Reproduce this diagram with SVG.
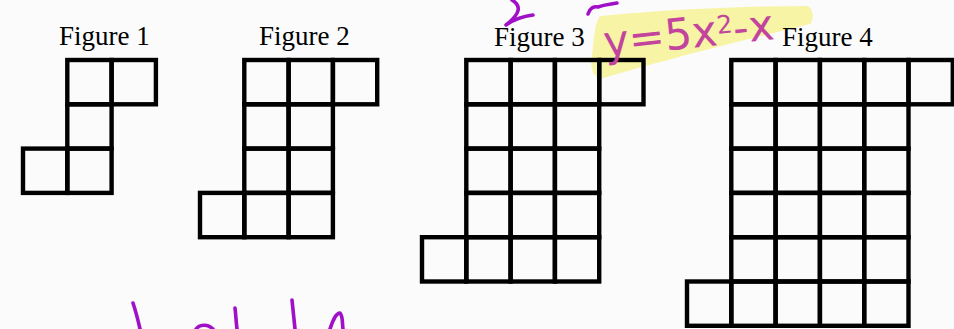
<svg xmlns="http://www.w3.org/2000/svg" xmlns:xlink="http://www.w3.org/1999/xlink" width="954" height="329" viewBox="0 0 954 329">
<style>
.c{fill:none;stroke:#000;stroke-width:4.4;stroke-linejoin:miter}
.lbl{font-family:"Liberation Serif","Times New Roman",serif;font-size:27px;fill:#000}
.ink{fill:none;stroke:#a010c8;stroke-width:3.6;stroke-linecap:round;stroke-linejoin:round}
.hw{font-family:"DejaVu Sans","Liberation Sans",sans-serif;font-size:43px;fill:#c2449c}
</style>
<defs>
<rect id="cell" width="44.3" height="44.3" class="c"/>
</defs>
<rect width="954" height="329" fill="#fbfbfb"/>
<g id="highlight">
<path d="M600,16 C640,12 720,6 808,6 C814,10 814,20 810,24 C770,34 700,50 600,79 C592,76 590,66 592,56 C594,40 594,24 600,16 Z" fill="#f8f4a6"/>
</g>
<g id="figure1">
<text class="lbl" x="59" y="45">Figure 1</text>
<use xlink:href="#cell" x="67.3" y="60"/>
<use xlink:href="#cell" x="111.6" y="60"/>
<use xlink:href="#cell" x="67.3" y="104.3"/>
<use xlink:href="#cell" x="23" y="148.6"/>
<use xlink:href="#cell" x="67.3" y="148.6"/>
</g>
<g id="figure2">
<text class="lbl" x="259" y="45">Figure 2</text>
<use xlink:href="#cell" x="244.3" y="60"/>
<use xlink:href="#cell" x="288.6" y="60"/>
<use xlink:href="#cell" x="332.9" y="60"/>
<use xlink:href="#cell" x="244.3" y="104.3"/>
<use xlink:href="#cell" x="288.6" y="104.3"/>
<use xlink:href="#cell" x="244.3" y="148.6"/>
<use xlink:href="#cell" x="288.6" y="148.6"/>
<use xlink:href="#cell" x="200" y="192.9"/>
<use xlink:href="#cell" x="244.3" y="192.9"/>
<use xlink:href="#cell" x="288.6" y="192.9"/>
</g>
<g id="figure3">
<text class="lbl" x="494" y="46">Figure 3</text>
<use xlink:href="#cell" x="466.3" y="60"/>
<use xlink:href="#cell" x="510.6" y="60"/>
<use xlink:href="#cell" x="554.9" y="60"/>
<use xlink:href="#cell" x="599.2" y="60"/>
<use xlink:href="#cell" x="466.3" y="104.3"/>
<use xlink:href="#cell" x="510.6" y="104.3"/>
<use xlink:href="#cell" x="554.9" y="104.3"/>
<use xlink:href="#cell" x="466.3" y="148.6"/>
<use xlink:href="#cell" x="510.6" y="148.6"/>
<use xlink:href="#cell" x="554.9" y="148.6"/>
<use xlink:href="#cell" x="466.3" y="192.9"/>
<use xlink:href="#cell" x="510.6" y="192.9"/>
<use xlink:href="#cell" x="554.9" y="192.9"/>
<use xlink:href="#cell" x="422" y="237.2"/>
<use xlink:href="#cell" x="466.3" y="237.2"/>
<use xlink:href="#cell" x="510.6" y="237.2"/>
<use xlink:href="#cell" x="554.9" y="237.2"/>
</g>
<g id="figure4">
<text class="lbl" x="782" y="46">Figure 4</text>
<use xlink:href="#cell" x="731.3" y="60"/>
<use xlink:href="#cell" x="775.6" y="60"/>
<use xlink:href="#cell" x="819.9" y="60"/>
<use xlink:href="#cell" x="864.2" y="60"/>
<use xlink:href="#cell" x="908.5" y="60"/>
<use xlink:href="#cell" x="731.3" y="104.3"/>
<use xlink:href="#cell" x="775.6" y="104.3"/>
<use xlink:href="#cell" x="819.9" y="104.3"/>
<use xlink:href="#cell" x="864.2" y="104.3"/>
<use xlink:href="#cell" x="731.3" y="148.6"/>
<use xlink:href="#cell" x="775.6" y="148.6"/>
<use xlink:href="#cell" x="819.9" y="148.6"/>
<use xlink:href="#cell" x="864.2" y="148.6"/>
<use xlink:href="#cell" x="731.3" y="192.9"/>
<use xlink:href="#cell" x="775.6" y="192.9"/>
<use xlink:href="#cell" x="819.9" y="192.9"/>
<use xlink:href="#cell" x="864.2" y="192.9"/>
<use xlink:href="#cell" x="731.3" y="237.2"/>
<use xlink:href="#cell" x="775.6" y="237.2"/>
<use xlink:href="#cell" x="819.9" y="237.2"/>
<use xlink:href="#cell" x="864.2" y="237.2"/>
<use xlink:href="#cell" x="687" y="281.5"/>
<use xlink:href="#cell" x="731.3" y="281.5"/>
<use xlink:href="#cell" x="775.6" y="281.5"/>
<use xlink:href="#cell" x="819.9" y="281.5"/>
<use xlink:href="#cell" x="864.2" y="281.5"/>
</g>
<g id="annotation">
<text class="hw" transform="translate(605,57) rotate(-6)">y=5x<tspan dy="-11" font-size="25">2</tspan><tspan dy="11">-x</tspan></text>
<path class="ink" d="M512,0 C522,6 520,14 506,25 C516,18 526,16 533,15"/>
<path class="ink" d="M588,14 C590,8 594,6 598,7 C604,5 610,4 617,3"/>
<path class="ink" d="M133,303 C136,312 138,320 140,329"/>
<path class="ink" d="M196,329 C199,325 207,323 213,329"/>
<path class="ink" d="M235,308 C236,316 236,322 237,329"/>
<path class="ink" d="M292,300 C293,310 294,320 295,329"/>
<path class="ink" d="M330,329 C333,320 336,313 340,313 C343,316 342,322 343,329"/>
</g>
</svg>
